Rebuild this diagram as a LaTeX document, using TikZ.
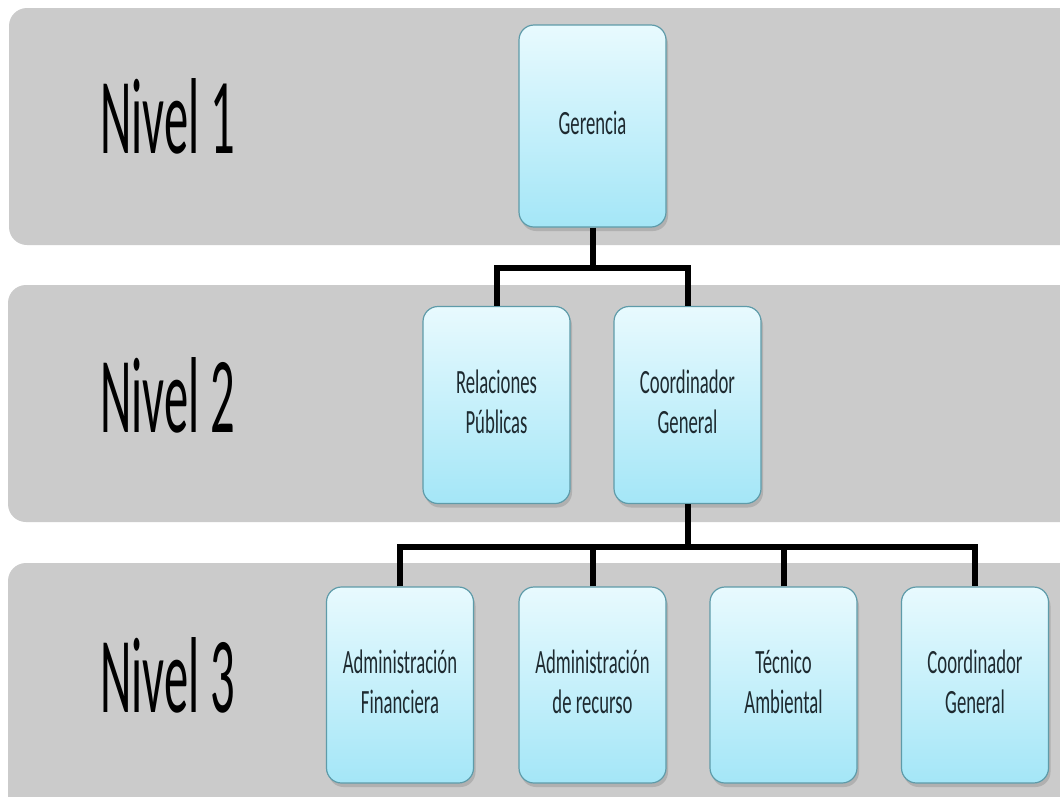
\documentclass[tikz,border=0pt]{standalone}
\usepackage{fontspec}
\setmainfont{Carlito}
\usepackage{graphicx}
\usetikzlibrary{shadows}
\definecolor{bandgray}{HTML}{CBCBCB}
\definecolor{boxtop}{HTML}{E8FAFE}
\definecolor{boxbot}{HTML}{A4E6F7}
\definecolor{boxline}{HTML}{5E9BA9}
\definecolor{boxtext}{HTML}{1E2A30}
\newcommand{\narrow}[1]{\scalebox{0.55}[1]{\begin{tabular}{@{}c@{}}#1\end{tabular}}}
\newcommand{\nivel}[1]{\scalebox{0.45}[1]{#1}}
\begin{document}
\begin{tikzpicture}[x=1pt,y=-1pt,
    band/.style={fill=bandgray,rounded corners=18pt},
    cargo/.style={draw=boxline,line width=1.2pt,rounded corners=15pt,
        top color=boxtop,bottom color=boxbot,text=boxtext,
        minimum width=147pt,minimum height=197pt,inner sep=0pt,
        font=\fontsize{34}{40}\selectfont,
        drop shadow={opacity=0.35,shadow xshift=2pt,shadow yshift=-4pt}},
    nivtxt/.style={anchor=base west,inner sep=0pt,font=\fontsize{108}{110}\selectfont},
    conn/.style={line width=6pt,black}]
    \useasboundingbox (0,0) rectangle (1060,796);
    \clip (0,0) rectangle (1060,796);
    \fill[white] (0,0) rectangle (1060,796);

    \fill[band] (9,8) rectangle (1090,245);
    \fill[band] (8,285) rectangle (1090,522);
    \fill[band] (8,563) rectangle (1090,830);

    \node[nivtxt] (n1) at (100,153) {\nivel{Nivel 1}};
    \node[nivtxt] (n2) at (100,432) {\nivel{Nivel 2}};
    \node[nivtxt] (n3) at (100,712) {\nivel{Nivel 3}};

    \coordinate (j1) at (592.5,268);
    \coordinate (j2) at (687.5,547);

    \node[cargo,minimum height=202pt] (ger) at (592.5,126) {\narrow{Gerencia}};

    \node[cargo] (rel) at (496.5,405) {\narrow{Relaciones\\Públicas}};
    \node[cargo] (coo) at (687.5,405) {\narrow{Coordinador\\General}};

    \node[cargo,minimum height=196pt] (af) at (400,685) {\narrow{Administración\\Financiera}};
    \node[cargo,minimum height=196pt] (ar) at (592.5,685) {\narrow{Administración\\de recurso}};
    \node[cargo,minimum height=196pt] (ta) at (783.5,685) {\narrow{Técnico\\Ambiental}};
    \node[cargo,minimum height=196pt] (cg) at (975,685) {\narrow{Coordinador\\General}};

    \draw[conn] (ger.south) -- (j1);
    \draw[conn] (rel.north) |- (j1) -| (coo.north);

    \draw[conn] (coo.south) -- (j2);
    \draw[conn] (af.north) |- (j2) -| (cg.north);
    \draw[conn] (ar.north) -- (ar.north |- j2);
    \draw[conn] (ta.north) -- (ta.north |- j2);
\end{tikzpicture}
\end{document}
